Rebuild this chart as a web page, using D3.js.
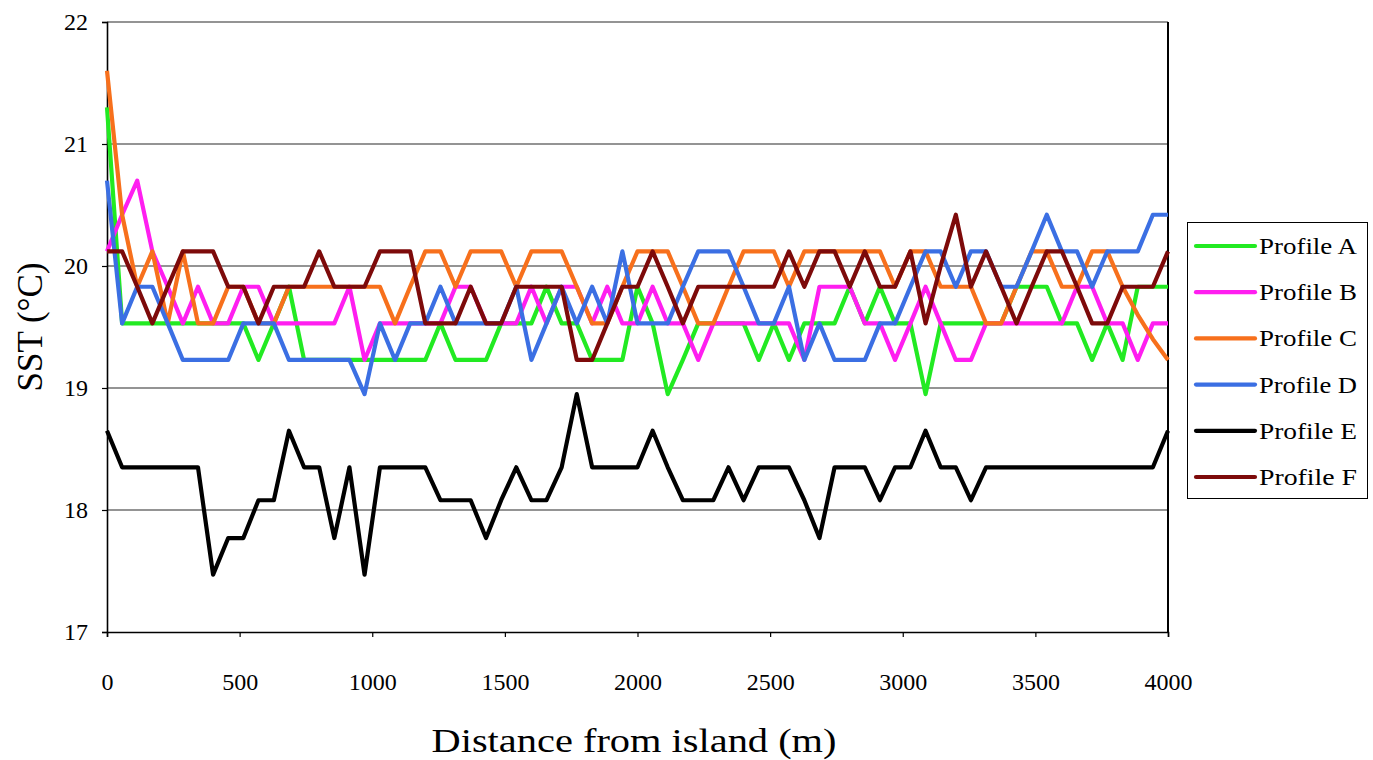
<html>
<head>
<title>SST profiles</title>
<style>
  body { margin: 0; background: #fff; }
</style>
</head>
<body>
<svg id="container" width="1373" height="760"></svg>
<script src="https://d3js.org/d3.v7.min.js"></script>
<script>
// distance from island (m), one sample about every 57 m
let distances = [0, 57, 114, 171, 229, 286, 343, 400, 457, 514, 571, 629, 686, 743, 800, 857,
  914, 971, 1029, 1086, 1143, 1200, 1257, 1314, 1371, 1429, 1486, 1543, 1600, 1657, 1714,
  1771, 1829, 1886, 1943, 2000, 2057, 2114, 2171, 2229, 2286, 2343, 2400, 2457, 2514, 2571,
  2629, 2686, 2743, 2800, 2857, 2914, 2971, 3029, 3086, 3143, 3200, 3257, 3314, 3371, 3429,
  3486, 3543, 3600, 3657, 3714, 3771, 3829, 3886, 3943, 4000]

let profileA = [21.30, 19.53, 19.53, 19.53, 19.53, 19.53, 19.53, 19.53, 19.53, 19.53, 19.23,
  19.53, 19.83, 19.23, 19.23, 19.23, 19.23, 19.23, 19.23, 19.23, 19.23, 19.23, 19.53, 19.23,
  19.23, 19.23, 19.53, 19.53, 19.53, 19.83, 19.53, 19.53, 19.23, 19.23, 19.23, 19.83, 19.53,
  18.95, 19.23, 19.53, 19.53, 19.53, 19.53, 19.23, 19.53, 19.23, 19.53, 19.53, 19.53, 19.83,
  19.53, 19.83, 19.53, 19.53, 18.95, 19.53, 19.53, 19.53, 19.53, 19.53, 19.83, 19.83, 19.83,
  19.53, 19.53, 19.23, 19.53, 19.23, 19.83, 19.83, 19.83]

let profileB = [20.12, 20.42, 20.70, 20.12, 19.83, 19.53, 19.83, 19.53, 19.53, 19.83, 19.83,
  19.53, 19.53, 19.53, 19.53, 19.53, 19.83, 19.23, 19.53, 19.53, 19.53, 19.53, 19.53, 19.83,
  19.83, 19.53, 19.53, 19.53, 19.83, 19.53, 19.83, 19.83, 19.53, 19.83, 19.53, 19.53, 19.83,
  19.53, 19.53, 19.23, 19.53, 19.53, 19.53, 19.53, 19.53, 19.53, 19.23, 19.83, 19.83, 19.83,
  19.53, 19.53, 19.23, 19.53, 19.83, 19.53, 19.23, 19.23, 19.53, 19.53, 19.53, 19.53, 19.53,
  19.53, 19.83, 19.83, 19.53, 19.53, 19.23, 19.53, 19.53]

let profileC = [21.60, 20.42, 19.83, 20.12, 19.53, 20.12, 19.53, 19.53, 19.83, 19.83, 19.53,
  19.53, 19.83, 19.83, 19.83, 19.83, 19.83, 19.83, 19.83, 19.53, 19.83, 20.12, 20.12, 19.83,
  20.12, 20.12, 20.12, 19.83, 20.12, 20.12, 20.12, 19.83, 19.53, 19.53, 19.83, 20.12, 20.12,
  20.12, 19.83, 19.53, 19.53, 19.83, 20.12, 20.12, 20.12, 19.83, 20.12, 20.12, 20.12, 20.12,
  20.12, 20.12, 19.83, 20.12, 20.12, 19.83, 19.83, 19.83, 19.53, 19.53, 19.83, 20.12, 20.12,
  19.83, 19.83, 20.12, 20.12, 19.83, 19.60, 19.40, 19.23]

let profileD = [20.70, 19.53, 19.83, 19.83, 19.53, 19.23, 19.23, 19.23, 19.23, 19.53, 19.53,
  19.53, 19.23, 19.23, 19.23, 19.23, 19.23, 18.95, 19.53, 19.23, 19.53, 19.53, 19.83, 19.53,
  19.53, 19.53, 19.53, 19.83, 19.23, 19.53, 19.83, 19.53, 19.83, 19.53, 20.12, 19.53, 19.53,
  19.53, 19.83, 20.12, 20.12, 20.12, 19.83, 19.53, 19.53, 19.83, 19.23, 19.53, 19.23, 19.23,
  19.23, 19.53, 19.53, 19.83, 20.12, 20.12, 19.83, 20.12, 20.12, 19.83, 19.83, 20.12, 20.42,
  20.12, 20.12, 19.83, 20.12, 20.12, 20.12, 20.42, 20.42]

let profileE = [18.65, 18.35, 18.35, 18.35, 18.35, 18.35, 18.35, 17.47, 17.77, 17.77, 18.08,
  18.08, 18.65, 18.35, 18.35, 17.77, 18.35, 17.47, 18.35, 18.35, 18.35, 18.35, 18.08, 18.08,
  18.08, 17.77, 18.08, 18.35, 18.08, 18.08, 18.35, 18.95, 18.35, 18.35, 18.35, 18.35, 18.65,
  18.35, 18.08, 18.08, 18.08, 18.35, 18.08, 18.35, 18.35, 18.35, 18.08, 17.77, 18.35, 18.35,
  18.35, 18.08, 18.35, 18.35, 18.65, 18.35, 18.35, 18.08, 18.35, 18.35, 18.35, 18.35, 18.35,
  18.35, 18.35, 18.35, 18.35, 18.35, 18.35, 18.35, 18.65]

let profileF = [20.12, 20.12, 19.83, 19.53, 19.83, 20.12, 20.12, 20.12, 19.83, 19.83, 19.53,
  19.83, 19.83, 19.83, 20.12, 19.83, 19.83, 19.83, 20.12, 20.12, 20.12, 19.53, 19.53, 19.53,
  19.83, 19.53, 19.53, 19.83, 19.83, 19.83, 19.83, 19.23, 19.23, 19.53, 19.83, 19.83, 20.12,
  19.83, 19.53, 19.83, 19.83, 19.83, 19.83, 19.83, 19.83, 20.12, 19.83, 20.12, 20.12, 19.83,
  20.12, 19.83, 19.83, 20.12, 19.53, 20.00, 20.42, 19.83, 20.12, 19.83, 19.53, 19.83, 20.12,
  20.12, 19.83, 19.53, 19.53, 19.83, 19.83, 19.83, 20.12]

let seriesNames = ["Profile A", "Profile B", "Profile C", "Profile D", "Profile E", "Profile F"]
let seriesValues = [profileA, profileB, profileC, profileD, profileE, profileF]
let seriesColors = ["#22ea22", "#ff1ef0", "#f7701c", "#3b6fe3", "#000000", "#7d0a0a"]

let xTicks = [0, 500, 1000, 1500, 2000, 2500, 3000, 3500, 4000]
let yTicks = [17, 18, 19, 20, 21, 22]

let serif = "'Liberation Serif', 'Times New Roman', serif"

let svg = d3.select("#container")

let x = d3.scaleLinear().domain([0, 4000]).range([107, 1168])
let y = d3.scaleLinear().domain([17, 22]).range([632, 22])

// horizontal gridlines
svg.append("g")
   .selectAll("line")
   .data(yTicks.filter(d => d > 17))
   .join("line")
   .attr("x1", x(0))
   .attr("x2", x(4000))
   .attr("y1", d => y(d))
   .attr("y2", d => y(d))
   .attr("stroke", "#2a2a2a")
   .attr("stroke-width", 1.2)

// right border of plot area
svg.append("line")
   .attr("x1", x(4000)).attr("x2", x(4000))
   .attr("y1", y(22)).attr("y2", y(17))
   .attr("stroke", "#000").attr("stroke-width", 2)

// axes
let xAxis = d3.axisBottom(x).tickValues(xTicks).tickFormat(d3.format("d"))
              .tickSize(5).tickPadding(36)
let yAxis = d3.axisLeft(y).tickValues(yTicks).tickFormat(d3.format("d"))
              .tickSize(5).tickPadding(14)

let gx = svg.append("g").attr("transform", "translate(0," + y(17) + ")").call(xAxis)
let gy = svg.append("g").attr("transform", "translate(" + x(0) + ",0)").call(yAxis)

for (let g of [gx, gy]) {
  g.attr("font-family", null).attr("font-size", null)
  g.select(".domain").attr("stroke", "#000").attr("stroke-width", 1.6)
  g.selectAll(".tick line").attr("stroke", "#000").attr("stroke-width", 1.2)
  g.selectAll(".tick text")
   .style("font-family", serif)
   .style("font-size", "24px")
   .attr("fill", "#000")
}

// the series lines
let line = d3.line()
             .x((d, i) => x(distances[i]))
             .y(d => y(d))

svg.append("g")
   .selectAll("path")
   .data(seriesValues)
   .join("path")
   .attr("d", d => line(d))
   .attr("fill", "none")
   .attr("stroke", (d, i) => seriesColors[i])
   .attr("stroke-width", 4.2)
   .attr("stroke-linejoin", "round")

// axis titles
svg.append("text")
   .attr("x", 634)
   .attr("y", 752)
   .attr("text-anchor", "middle")
   .style("font-family", serif)
   .style("font-size", "34px")
   .attr("textLength", 405)
   .attr("lengthAdjust", "spacingAndGlyphs")
   .text("Distance from island (m)")

svg.append("text")
   .attr("transform", "translate(42,327) rotate(-90)")
   .attr("text-anchor", "middle")
   .style("font-family", serif)
   .style("font-size", "35px")
   .text("SST (°C)")

// legend
let legend = svg.append("g")
legend.append("rect")
      .attr("x", 1187.5).attr("y", 222.5)
      .attr("width", 180).attr("height", 276)
      .attr("fill", "#fff").attr("stroke", "#000").attr("stroke-width", 1)

let rowScale = d3.scalePoint().domain(seriesNames).range([246, 477])

let rows = legend.selectAll("g.row")
                 .data(seriesNames)
                 .join("g")
                 .attr("class", "row")
                 .attr("transform", d => "translate(0," + rowScale(d) + ")")
rows.append("line")
    .attr("x1", 1196).attr("x2", 1255)
    .attr("stroke", (d, i) => seriesColors[i])
    .attr("stroke-width", 4.2)
    .attr("stroke-linecap", "round")
rows.append("text")
    .attr("x", 1259)
    .attr("y", 8)
    .style("font-family", serif)
    .style("font-size", "24px")
    .attr("textLength", 98)
    .attr("lengthAdjust", "spacingAndGlyphs")
    .text(d => d)
</script>
</body>
</html>
